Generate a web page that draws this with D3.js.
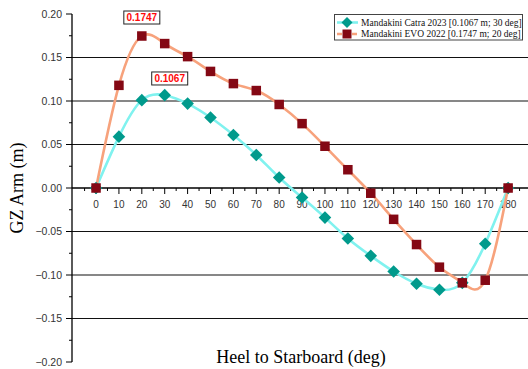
<!DOCTYPE html>
<html><head><meta charset="utf-8">
<script src="https://cdn.jsdelivr.net/npm/d3@7"></script>
<style>html,body{margin:0;padding:0;background:#fff;}svg{display:block;}</style>
</head><body>
<svg id="chart" width="528" height="369"></svg>
<script>
const heel = [0,10,20,30,40,50,60,70,80,90,100,110,120,130,140,150,160,170,180];
const catra = [0,0.059,0.101,0.1067,0.097,0.081,0.061,0.038,0.012,-0.011,-0.034,-0.058,-0.078,-0.096,-0.110,-0.117,-0.109,-0.064,0];
const evo = [0,0.118,0.1747,0.166,0.151,0.134,0.120,0.112,0.096,0.074,0.048,0.021,-0.006,-0.036,-0.065,-0.091,-0.109,-0.106,0];
const seriesNames = ["Mandakini Catra 2023 [0.1067 m; 30 deg]","Mandakini EVO 2022 [0.1747 m; 20 deg]"];
const yTicks = [0.20,0.15,0.10,0.05,0.00,-0.05,-0.10,-0.15,-0.20];
const gridVals = [0.15,0.10,0.05,-0.05,-0.10,-0.15];
const xTicks = [0,10,20,30,40,50,60,70,80,90,100,110,120,130,140,150,160,170,180];
const peaks = [{x:20,y:0.1747,label:"0.1747"},{x:30,y:0.1067,label:"0.1067"}];

const svg = d3.select("#chart");
const x = d3.scaleLinear().domain([-10.5,190]).range([72,531]);
const y = d3.scaleLinear().domain([-0.20,0.20]).range([362,14]);
const catraLine = "#80f2ef", catraMark = "#009a8c";
const evoLine = "#f7a27c", evoMark = "#840814";

// grid lines
svg.append("g").selectAll("line").data(gridVals).join("line")
  .attr("x1",72).attr("x2",528).attr("y1",d=>y(d)).attr("y2",d=>y(d))
  .attr("stroke","#111").attr("stroke-width",1.1);

// y axis
const yAxis = svg.append("g").attr("transform","translate(72,0)");
yAxis.append("line").attr("x1",0).attr("x2",0).attr("y1",y(0.20)).attr("y2",y(-0.20)).attr("stroke","#000").attr("stroke-width",1.3);
const yMinor = d3.range(-0.175,0.2,0.05);
yAxis.selectAll(".ymin").data(yMinor).join("line").attr("x1",-3).attr("x2",0)
  .attr("y1",d=>y(d)).attr("y2",d=>y(d)).attr("stroke","#000");
yAxis.selectAll(".ymaj").data(yTicks).join("line").attr("x1",-6).attr("x2",0)
  .attr("y1",d=>y(d)).attr("y2",d=>y(d)).attr("stroke","#000");
yAxis.selectAll("text").data(yTicks).join("text")
  .attr("x",-10).attr("y",d=>y(d)).attr("dy","0.35em").attr("text-anchor","end")
  .attr("font-family","Liberation Sans, Arial, sans-serif").attr("font-size",10.5).attr("fill","#333")
  .text(d=>d3.format(".2f")(d));

// x axis at y=0
const xAxis = svg.append("g").attr("transform",`translate(0,${y(0)})`);
xAxis.append("line").attr("x1",72).attr("x2",528).attr("y1",0).attr("y2",0).attr("stroke","#000").attr("stroke-width",1.3);
const xMinor = d3.range(-5,190,10);
xAxis.selectAll(".xmin").data(xMinor).join("line").attr("x1",d=>x(d)).attr("x2",d=>x(d))
  .attr("y1",0).attr("y2",3).attr("stroke","#000");
xAxis.selectAll(".xmaj").data(xTicks).join("line").attr("x1",d=>x(d)).attr("x2",d=>x(d))
  .attr("y1",0).attr("y2",6).attr("stroke","#000");
xAxis.selectAll("text").data(xTicks).join("text")
  .attr("x",d=>x(d)).attr("y",20).attr("text-anchor","middle")
  .attr("font-family","Liberation Sans, Arial, sans-serif").attr("font-size",10).attr("fill","#333")
  .text(d=>d);

// lines
const line = d3.line().curve(d3.curveNatural).x(d=>x(d[0])).y(d=>y(d[1]));
const catraPts = heel.map((h,i)=>[h,catra[i]]);
const evoPts = heel.map((h,i)=>[h,evo[i]]);
svg.append("path").attr("d",line(catraPts)).attr("fill","none").attr("stroke",catraLine).attr("stroke-width",2.6);
svg.append("path").attr("d",line(evoPts)).attr("fill","none").attr("stroke",evoLine).attr("stroke-width",2.6);

// markers
const dia = 6.3;
svg.append("g").selectAll("path").data(catraPts).join("path")
  .attr("d",d=>`M${x(d[0])},${y(d[1])-dia}L${x(d[0])+dia},${y(d[1])}L${x(d[0])},${y(d[1])+dia}L${x(d[0])-dia},${y(d[1])}Z`)
  .attr("fill",catraMark);
const sq = 9.5;
svg.append("g").selectAll("rect").data(evoPts).join("rect")
  .attr("x",d=>x(d[0])-sq/2).attr("y",d=>y(d[1])-sq/2).attr("width",sq).attr("height",sq)
  .attr("fill",evoMark);

// peak annotations
const offs = [{dx:0,dy:-18.5},{dx:5,dy:-16.7}];
peaks.forEach((p,i)=>{
  const cx = x(p.x)+offs[i].dx, cy = y(p.y)+offs[i].dy;
  svg.append("rect").attr("x",cx-18).attr("y",cy-6.5).attr("width",36).attr("height",13)
    .attr("fill","#fff").attr("stroke","#222").attr("stroke-width",1);
  svg.append("text").attr("x",cx).attr("y",cy).attr("dy","0.36em").attr("text-anchor","middle")
    .attr("font-family","Liberation Sans, Arial, sans-serif").attr("font-weight","bold").attr("font-size",10)
    .attr("fill","#ff0a0a").text(p.label);
});

// legend
const lg = svg.append("g");
lg.append("rect").attr("x",334.5).attr("y",14.5).attr("width",188).attr("height",25.5)
  .attr("fill","#fff").attr("stroke","#444").attr("stroke-width",1);
const rows = [22.5,34];
[[catraLine,catraMark,"d"],[evoLine,evoMark,"s"]].forEach((s,i)=>{
  const ry = rows[i];
  lg.append("line").attr("x1",337).attr("x2",358).attr("y1",ry).attr("y2",ry)
    .attr("stroke",s[0]).attr("stroke-width",2.6).attr("stroke-dasharray", i===1 ? "5,2,6,2,5" : null);
  if (s[2]==="d") {
    const r = 5.5;
    lg.append("path").attr("d",`M347,${ry-r}L${347+r},${ry}L347,${ry+r}L${347-r},${ry}Z`).attr("fill",s[1]);
  } else {
    lg.append("rect").attr("x",347-4.5).attr("y",ry-4.5).attr("width",9).attr("height",9).attr("fill",s[1]);
  }
  lg.append("text").attr("x",361).attr("y",ry).attr("dy","0.35em")
    .attr("font-family","Liberation Serif, Times New Roman, serif").attr("font-size",9.5).attr("fill","#111")
    .text(seriesNames[i]);
});

// axis titles
svg.append("text").attr("x",301).attr("y",363).attr("text-anchor","middle")
  .attr("font-family","Liberation Serif, Times New Roman, serif").attr("font-size",18).attr("fill","#000")
  .text("Heel to Starboard (deg)");
svg.append("text").attr("transform","translate(23,188) rotate(-90)").attr("text-anchor","middle")
  .attr("font-family","Liberation Serif, Times New Roman, serif").attr("font-size",18).attr("fill","#000")
  .text("GZ Arm (m)");
</script>
</body></html>
